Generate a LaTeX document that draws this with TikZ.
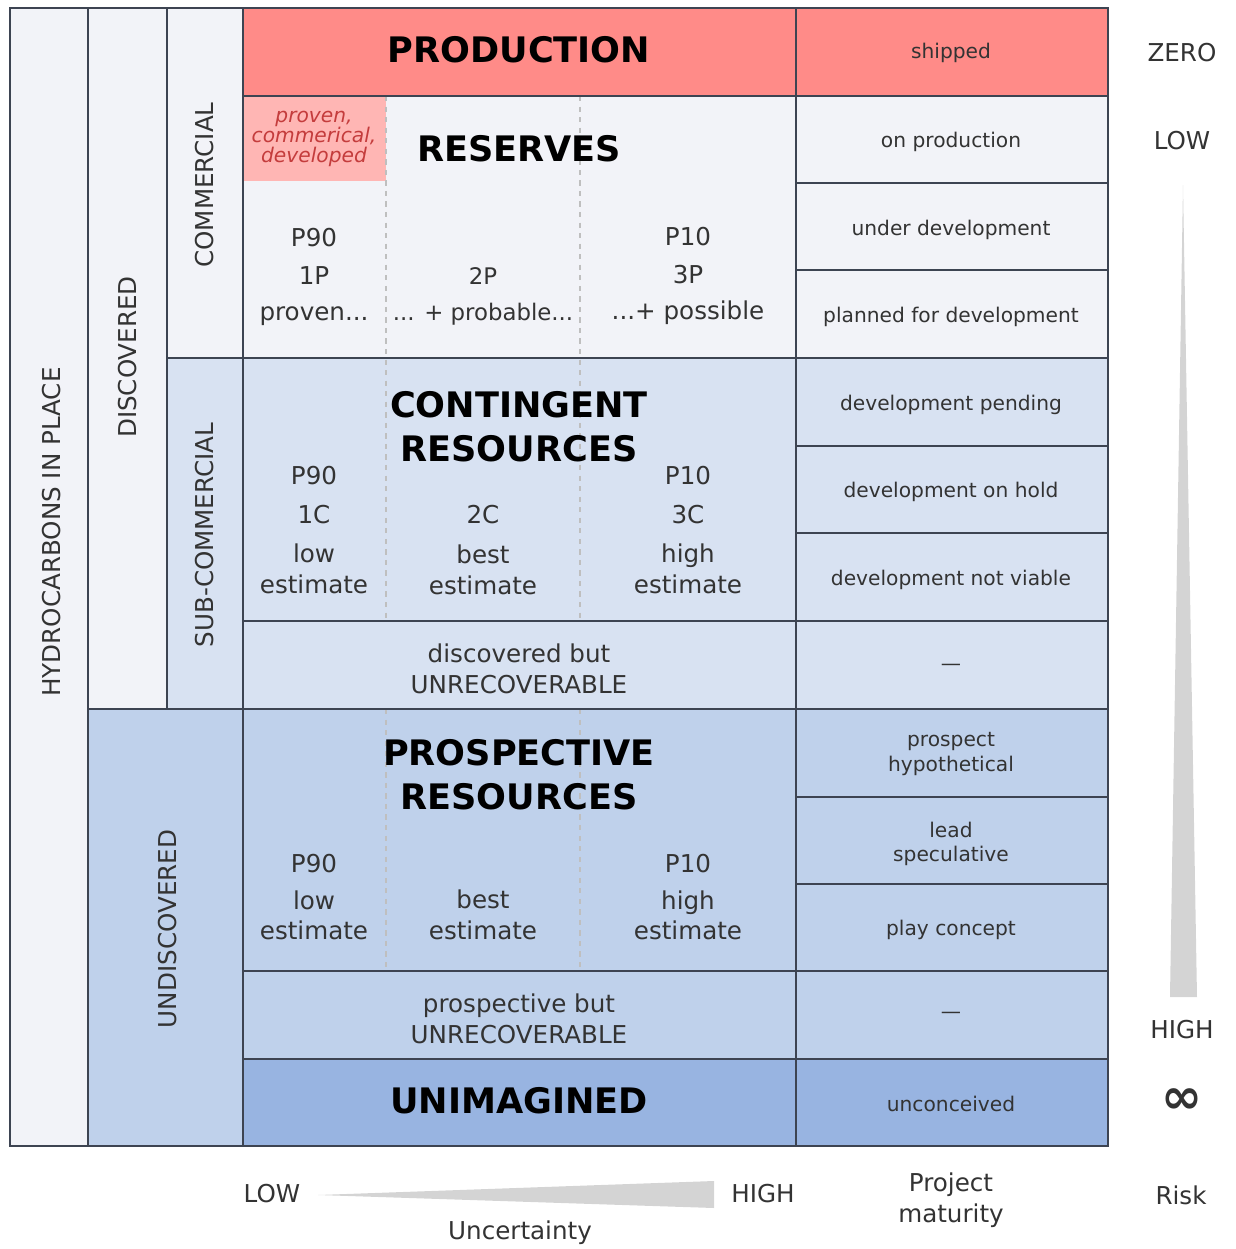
\documentclass[tikz,border=0pt]{standalone}
\usepackage{fontspec}
\setmainfont{DejaVu Sans}
\definecolor{paper}{HTML}{F2F3F8}
\definecolor{salmon}{HTML}{FF8B88}
\definecolor{pinkcell}{HTML}{FFB6B4}
\definecolor{contblue}{HTML}{D8E2F2}
\definecolor{prospblue}{HTML}{BFD1EB}
\definecolor{unimblue}{HTML}{98B4E1}
\definecolor{gridline}{HTML}{3D4452}
\definecolor{ink}{HTML}{333333}
\definecolor{redink}{HTML}{C43C3C}
\definecolor{wedge}{HTML}{D4D4D4}

\begin{document}
\begin{tikzpicture}[x=0.02cm,y=-0.02cm,
  grid/.style={draw=gridline,line width=1.2pt},
  split/.style={draw=gray!50,dashed,line width=0.7pt},
  title/.style={font=\fontsize{20}{25}\selectfont\bfseries,text=black,align=center},
  est/.style={font=\fontsize{14}{17.5}\selectfont,text=ink,align=center},
  maturity/.style={font=\fontsize{11.5}{14}\selectfont,text=ink,align=center},
  side/.style={font=\fontsize{14}{17}\selectfont,text=ink,rotate=90},
  axis/.style={font=\fontsize{14}{17.5}\selectfont,text=ink,align=center}]
\useasboundingbox (0,0) rectangle (1236,1249);

\fill[paper] (10,8) rectangle (243,709);
\fill[paper] (10,709) rectangle (88,1146);
\fill[contblue] (167,358) rectangle (243,709);
\fill[prospblue] (88,709) rectangle (243,1146);
\fill[salmon] (243,8) rectangle (1108,96);
\fill[paper] (243,96) rectangle (1108,358);
\fill[pinkcell] (243,96) rectangle (386,181);
\fill[contblue] (243,358) rectangle (1108,709);
\fill[prospblue] (243,709) rectangle (1108,1059);
\fill[unimblue] (243,1059) rectangle (1108,1146);

\draw[split] (386,96) -- (386,621);
\draw[split] (580,96) -- (580,621);
\draw[split] (386,709) -- (386,971);
\draw[split] (580,709) -- (580,971);

\draw[grid] (10,8) rectangle (1108,1146);
\draw[grid] (88,8) -- (88,1146);
\draw[grid] (167,8) -- (167,709);
\draw[grid] (243,8) -- (243,1146);
\draw[grid] (796,8) -- (796,1146);
\draw[grid] (243,96) -- (1108,96);
\draw[grid] (167,358) -- (1108,358);
\draw[grid] (243,621) -- (1108,621);
\draw[grid] (88,709) -- (1108,709);
\draw[grid] (243,971) -- (1108,971);
\draw[grid] (243,1059) -- (1108,1059);
\draw[grid] (796,183) -- (1108,183);
\draw[grid] (796,270) -- (1108,270);
\draw[grid] (796,446) -- (1108,446);
\draw[grid] (796,533) -- (1108,533);
\draw[grid] (796,797) -- (1108,797);
\draw[grid] (796,884) -- (1108,884);

\fill[wedge] (1183,185) -- (1197,997) -- (1170,997) -- cycle;
\fill[wedge] (318,1195) -- (714,1181) -- (714,1208) -- cycle;

\node[side] (hip) at (52,532) {HYDROCARBONS IN PLACE};
\node[side] (discovered) at (128,357) {DISCOVERED};
\node[side] (commercial) at (205,185) {COMMERCIAL};
\node[side] (subcommercial) at (205,535) {SUB-COMMERCIAL};
\node[side] (undiscovered) at (168,929) {UNDISCOVERED};

\node[title] (production) at (519,50) {PRODUCTION};
\node[font=\fontsize{11.5}{11.3}\selectfont\itshape,text=redink,align=center] (developed) at (314,139) {proven,\\commerical,\\developed};
\node[title] (reserves) at (519,149) {RESERVES};
\node[est] (res-low) at (314,277) {P90\\[4pt]1P\\[3pt]proven...};
\node[est,font=\fontsize{13}{17.5}\selectfont] (res-mid) at (483,296) {2P\\[3pt]... + probable...};
\node[est] (res-high) at (688,276) {P10\\[4pt]3P\\[3pt]...+ possible};

\node[title] (contingent) at (519,427) {CONTINGENT\\RESOURCES};
\node[est] (cont-low) at (314,530) {P90\\[4.5pt]1C\\[5pt]low\\estimate};
\node[est] (cont-mid) at (483,550) {2C\\[5pt]best\\estimate};
\node[est] (cont-high) at (688,530) {P10\\[4.5pt]3C\\[5pt]high\\estimate};
\node[est] (unrec-d) at (519,669) {discovered but\\UNRECOVERABLE};

\node[title] (prospective) at (519,775) {PROSPECTIVE\\RESOURCES};
\node[est] (pros-low) at (314,897) {P90\\[3.5pt]low\\estimate};
\node[est] (pros-mid) at (483,915) {best\\estimate};
\node[est] (pros-high) at (688,897) {P10\\[3.5pt]high\\estimate};
\node[est] (unrec-p) at (519,1019) {prospective but\\UNRECOVERABLE};
\node[title] (unimagined) at (519,1101) {UNIMAGINED};

\node[maturity] (shipped) at (951,53) {shipped};
\node[maturity] (onprod) at (951,142) {on production};
\node[maturity] (underdev) at (951,230) {under development};
\node[maturity] (planned) at (951,317) {planned for development};
\node[maturity] (pending) at (951,405) {development pending};
\node[maturity] (onhold) at (951,492) {development on hold};
\node[maturity] (notviable) at (951,580) {development not viable};
\node[maturity] (dash-d) at (951,667) {—};
\node[maturity] (prospect) at (951,754) {prospect\\hypothetical};
\node[maturity] (lead) at (951,844) {lead\\speculative};
\node[maturity] (play) at (951,930) {play concept};
\node[maturity] (dash-p) at (951,1015) {—};
\node[maturity] (unconceived) at (951,1104) {unconceived};

\node[axis] (zero) at (1182,53) {ZERO};
\node[axis] (risk-low) at (1182,141) {LOW};
\node[axis] (risk-high) at (1182,1030) {HIGH};
\node[font=\fontsize{28}{28}\selectfont\bfseries,text=ink] (infinity) at (1182,1101) {∞};
\node[axis] (unc-low) at (272,1194) {LOW};
\node[axis] (unc-high) at (763,1194) {HIGH};
\node[axis] (uncertainty) at (520,1233) {Uncertainty};
\node[axis] (maturity) at (951,1200) {Project\\maturity};
\node[axis] (risk) at (1181,1195) {Risk};
\end{tikzpicture}
\end{document}
